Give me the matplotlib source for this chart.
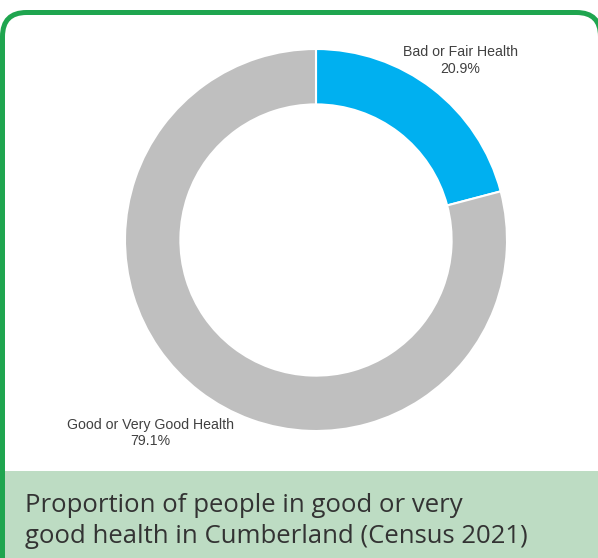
import numpy as np
import matplotlib.pyplot as plt
from matplotlib.patches import FancyBboxPatch, Rectangle

# health status shares, Cumberland, Census 2021
categories = ['Bad or Fair Health', 'Good or Very Good Health']
shares = [20.9, 79.1]
colors = ['#00B0F0', '#BFBFBF']
caption_lines = ['Proportion of people in good or very',
                 'good health in Cumberland (Census 2021)']

W, H = 598, 558
fig = plt.figure(figsize=(W / 100, H / 100), dpi=100)

# background layer in pixel coordinates
bg = fig.add_axes([0, 0, 1, 1])
bg.set_xlim(0, W)
bg.set_ylim(H, 0)
bg.axis('off')

frame = FancyBboxPatch((2.5, 12.5), W, H + 40,
                       boxstyle='round,pad=0,rounding_size=24',
                       facecolor='white', edgecolor='#1FA54F', linewidth=3.6)
bg.add_patch(frame)
bg.add_patch(Rectangle((5, 471), W, H - 471, facecolor='#BDDCC3', edgecolor='none'))
for i, line in enumerate(caption_lines):
    bg.text(25, 512 + 31 * i, line, fontsize=18.5, family='Open Sans',
            color='#333333', va='baseline', ha='left')

# donut
cx, cy, r = 316, 240, 191
ax = fig.add_axes([(cx - r) / W, (H - cy - r) / H, 2 * r / W, 2 * r / H])
ax.pie(shares, colors=colors, startangle=90, counterclock=False,
       wedgeprops=dict(width=0.29, edgecolor='white', linewidth=1.5))
ax.set_xlim(-1, 1)
ax.set_ylim(-1, 1)
ax.set_aspect('equal')
ax.axis('off')

label_pos = [(0.755, 0.94), (-0.865, -1.012)]
for name, val, (x, y) in zip(categories, shares, label_pos):
    ax.text(x, y, f'{name}\n{val:.1f}%', ha='center', va='center',
            fontsize=10.2, family='Liberation Sans', color='#404040',
            linespacing=1.2, clip_on=False)

fig.savefig('out.png', dpi=100)
